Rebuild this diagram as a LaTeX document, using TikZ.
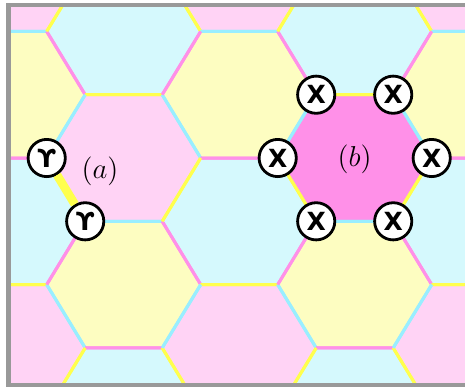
\documentclass[tikz,border=0pt]{standalone}
\usepackage{xcolor}
\usepackage{tikz}
\usepackage{amsmath}
\usepackage{fontspec}
\newfontfamily\sitefont{DejaVu Sans}
\usetikzlibrary{
  positioning,
  calc
}
\definecolor{hxTile0}{HTML}{D5F9FD}
\definecolor{hxTile1}{HTML}{FFD3F5}
\definecolor{hxTile2}{HTML}{FDFDC1}
\definecolor{hxRim0}{HTML}{99EEFF}
\definecolor{hxRim1}{HTML}{FF90E8}
\definecolor{hxRim2}{HTML}{FFFF4D}
\definecolor{hxFrame}{HTML}{999999}
\tikzset{
  rim/.style={line width=1.5pt},
  bond/.style={line width=4.3pt, hxRim2},
  site/.style={
    draw, circle, fill=white, line width=1.4pt, minimum size=18.6pt,
    inner sep=0pt, font=\sitefont\bfseries\fontsize{12.5}{14}\selectfont
  },
  tag/.style={font=\Large, inner sep=1pt},
  frame/.style={line width=2.2pt, hxFrame}
}

\begin{document}
\begin{tikzpicture}[x=0.5pt, y=-0.5pt]
  \useasboundingbox (0,0) rectangle (465,387);
  \coordinate (ha) at (123.7,158);
  \coordinate (hb) at (354.7,158);
  \begin{scope}
    \clip (8.5,5) rectangle (470,385);
    % tiles
    \foreach \i in {-1,...,3}{
      \foreach \j in {-1,...,2}{
        \pgfmathtruncatemacro\odd{mod(\i+2,2)}
        \pgfmathsetmacro\cx{123.7+115.5*\i}
        \pgfmathsetmacro\cy{158-63.3*\odd+126.6*\j}
        \pgfmathtruncatemacro\c{mod(\j+\odd+4,3)}
        \fill[hxTile\c] (\cx+77,\cy) -- ++(-38.5,63.3) -- ++(-77,0) -- ++(-38.5,-63.3)
          -- ++(38.5,-63.3) -- ++(77,0) -- cycle;
      }
    }
    \fill[hxRim1] ($(hb)+(77,0)$) -- ++(-38.5,63.3) -- ++(-77,0) -- ++(-38.5,-63.3)
      -- ++(38.5,-63.3) -- ++(77,0) -- cycle;
    % rims
    \foreach \i in {-1,...,3}{
      \foreach \j in {-1,...,2}{
        \pgfmathtruncatemacro\odd{mod(\i+2,2)}
        \pgfmathsetmacro\cx{123.7+115.5*\i}
        \pgfmathsetmacro\cy{158-63.3*\odd+126.6*\j}
        \pgfmathtruncatemacro\cp{mod(\j+\odd+5,3)}
        \pgfmathtruncatemacro\cm{mod(\j+\odd+3,3)}
        \draw[rim, hxRim\cp] (\cx-38.5,\cy-63.3) -- ++(77,0)
          (\cx+77,\cy) -- ++(-38.5,63.3) (\cx-38.5,\cy+63.3) -- ++(-38.5,-63.3);
        \draw[rim, hxRim\cm] (\cx+38.5,\cy-63.3) -- ++(38.5,63.3)
          (\cx+38.5,\cy+63.3) -- ++(-77,0) (\cx-77,\cy) -- ++(38.5,-63.3);
      }
    }
  \end{scope}

  \foreach \n/\dx/\dy in {xr/77/0, xbr/38.5/63.3, xbl/-38.5/63.3, xl/-77/0, xtl/-38.5/-63.3, xtr/38.5/-63.3}
    \node[site] (\n) at ($(hb)+(\dx,\dy)$) {X};
  \node[site] (ytop) at ($(ha)+(-77,0)$) {ϒ};
  \node[site] (ybot) at ($(ha)+(-38.5,63.3)$) {ϒ};
  \draw[bond] (ytop) -- (ybot);

  \node[tag] (la) at (100,171) {$(a)$};
  \node[tag] (lb) at (354.5,159.5) {$(b)$};

  \draw[frame] (470,5) -- (8.5,5) -- (8.5,385) -- (470,385);
\end{tikzpicture}
\end{document}
